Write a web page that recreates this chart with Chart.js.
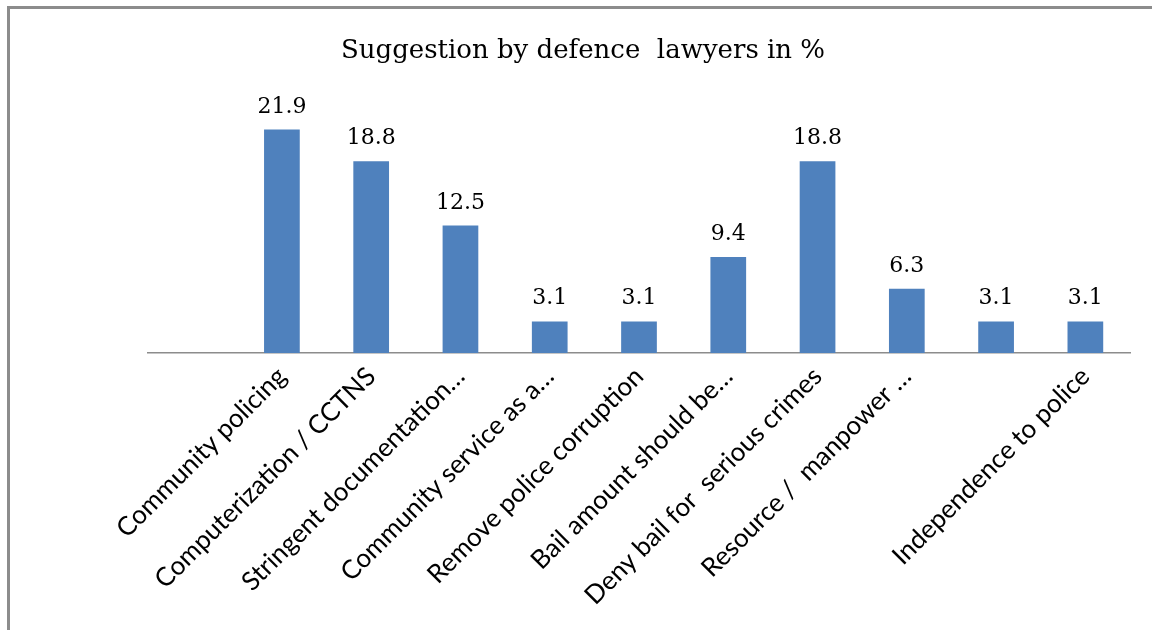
<!DOCTYPE html>
<html>
<head>
<meta charset="utf-8">
<script src="https://cdn.jsdelivr.net/npm/chart.js@4.4.1/dist/chart.umd.min.js"></script>
<style>
  html, body { margin: 0; padding: 0; background: #fff; }
  #wrap { position: relative; width: 1152px; height: 630px; overflow: hidden; }
  #frame {
    position: absolute; left: 7px; top: 6px; width: 1200px; height: 700px;
    border-left: 3px solid #8c8c8c; border-top: 3px solid #8c8c8c;
    pointer-events: none;
  }
  canvas { position: absolute; left: 0; top: 0; }
</style>
</head>
<body>
<div id="wrap">
  <canvas id="chart" width="1152" height="630"></canvas>
  <div id="frame"></div>
</div>
<script>
// chart data (first slot and the 9th bar's label are blank, as in the original sheet)
const titleText = 'Suggestion by defence  lawyers in %';
const categories = [
  '',
  'Community policing',
  'Computerization / CCTNS',
  'Stringent documentation…',
  'Community service as a…',
  'Remove police corruption',
  'Bail amount should be…',
  'Deny bail for  serious crimes',
  'Resource /  manpower …',
  '',
  'Independence to police'
];
const percentages = [null, 21.9, 18.8, 12.5, 3.1, 3.1, 9.4, 18.8, 6.3, 3.1, 3.1];
const serif = '"DejaVu Serif", "Liberation Serif", serif';

// title drawn by hand so it can sit where Excel put it
const chartTitle = {
  id: 'chartTitle',
  afterDraw(chart) {
    const ctx = chart.ctx;
    ctx.save();
    ctx.font = '26px ' + serif;
    ctx.fillStyle = '#000';
    ctx.textAlign = 'center';
    ctx.textBaseline = 'alphabetic';
    ctx.fillText(titleText, 583, 58);
    ctx.restore();
  }
};

// value labels above each bar
const valueLabels = {
  id: 'valueLabels',
  afterDatasetsDraw(chart) {
    const ctx = chart.ctx;
    const meta = chart.getDatasetMeta(0);
    ctx.save();
    ctx.font = '22px ' + serif;
    ctx.fillStyle = '#000';
    ctx.textAlign = 'center';
    ctx.textBaseline = 'alphabetic';
    meta.data.forEach((bar, i) => {
      const v = chart.data.datasets[0].data[i];
      if (v == null) return;
      ctx.fillText(v.toFixed(1), bar.x, bar.y - 17);
    });
    ctx.restore();
  }
};

new Chart(document.getElementById('chart'), {
  type: 'bar',
  data: {
    labels: categories,
    datasets: [{
      data: percentages,
      backgroundColor: '#4f81bd',
      borderWidth: 0,
      categoryPercentage: 1.0,
      barPercentage: 0.4
    }]
  },
  options: {
    responsive: false,
    animation: false,
    layout: { padding: { left: 148, right: 22, top: 98, bottom: 0 } },
    plugins: {
      legend: { display: false },
      tooltip: { enabled: false },
      title: { display: false }
    },
    scales: {
      x: {
        offset: true,
        grid: { display: false, drawTicks: false },
        border: { display: true, color: '#8c8c8c', width: 1.5 },
        ticks: {
          color: '#000',
          autoSkip: false,
          maxRotation: 45,
          minRotation: 45,
          padding: 8,
          font: { family: 'Lato, "Open Sans", sans-serif', size: 26 }
        },
        afterFit(scale) { scale.height = 277; }
      },
      y: {
        display: false,
        min: 0,
        max: 25
      }
    }
  },
  plugins: [valueLabels, chartTitle]
});
</script>
</body>
</html>
